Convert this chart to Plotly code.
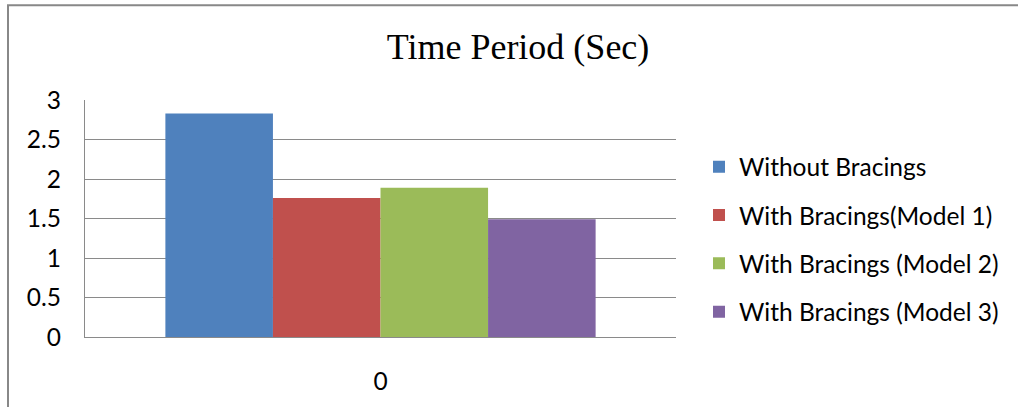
import plotly.graph_objects as go

categories = ["0"]
series_names = ["Without Bracings", "With Bracings(Model 1)", "With Bracings (Model 2)", "With Bracings (Model 3)"]
series_values = [[2.83], [1.76], [1.89], [1.49]]
series_colors = ["#4F81BD", "#C0504D", "#9BBB59", "#8064A2"]
y_ticks = [0, 0.5, 1, 1.5, 2, 2.5, 3]
title_text = "Time Period (Sec)"

W, H = 1018, 407
L, R, T, B = 85, 676, 100, 340

fig = go.Figure()
for i, (name, vals, col) in enumerate(zip(series_names, series_values, series_colors)):
    fig.add_trace(go.Bar(x=categories, y=vals, name=name, marker=dict(color=col, line=dict(width=0)),
                         legendgroup="g%d" % i))

txtfont = dict(family="Lato, Carlito, Calibri, sans-serif", size=24.5, color="#000000")
grid = "#8a8a8a"

fig.update_layout(
    width=W, height=H,
    margin=dict(l=L, r=W - R, t=T, b=H - B, pad=0),
    paper_bgcolor="white", plot_bgcolor="white",
    barmode="group", bargap=0.272, bargroupgap=0,
    title=dict(text=title_text, font=dict(family="Liberation Serif, Times New Roman, serif", size=36, color="#000000"),
               x=518 / W, xanchor="center", xref="container", y=1 - 46 / H, yanchor="middle", yref="container"),
    legend=dict(font=txtfont, x=(699 - L) / (R - L), xanchor="left", y=(B - 241) / (B - T), yanchor="middle",
                tracegroupgap=13.5, bgcolor="rgba(0,0,0,0)"),
    showlegend=True,
    font=txtfont,
)
fig.update_xaxes(type="category", showline=True, linecolor=grid, linewidth=1.3, showgrid=False,
                 ticks="", tickfont=txtfont, ticklabelstandoff=22)
fig.update_yaxes(range=[0, 3], tickvals=y_ticks, showline=True, linecolor=grid, linewidth=1.3,
                 showgrid=True, gridcolor=grid, gridwidth=1.3, zeroline=False, ticks="",
                 tickfont=txtfont, ticklabelstandoff=18)

# outer chart border
fig.add_shape(type="rect", xref="paper", yref="paper",
              x0=(8 - L) / (R - L), x1=(1030 - L) / (R - L),
              y0=(B - 420) / (B - T), y1=(B - 4) / (B - T),
              line=dict(color="#888888", width=2), fillcolor="rgba(0,0,0,0)", layer="below")

fig.write_html("out.html", config={"displayModeBar": False},
               post_script="document.body.style.margin='0';")
